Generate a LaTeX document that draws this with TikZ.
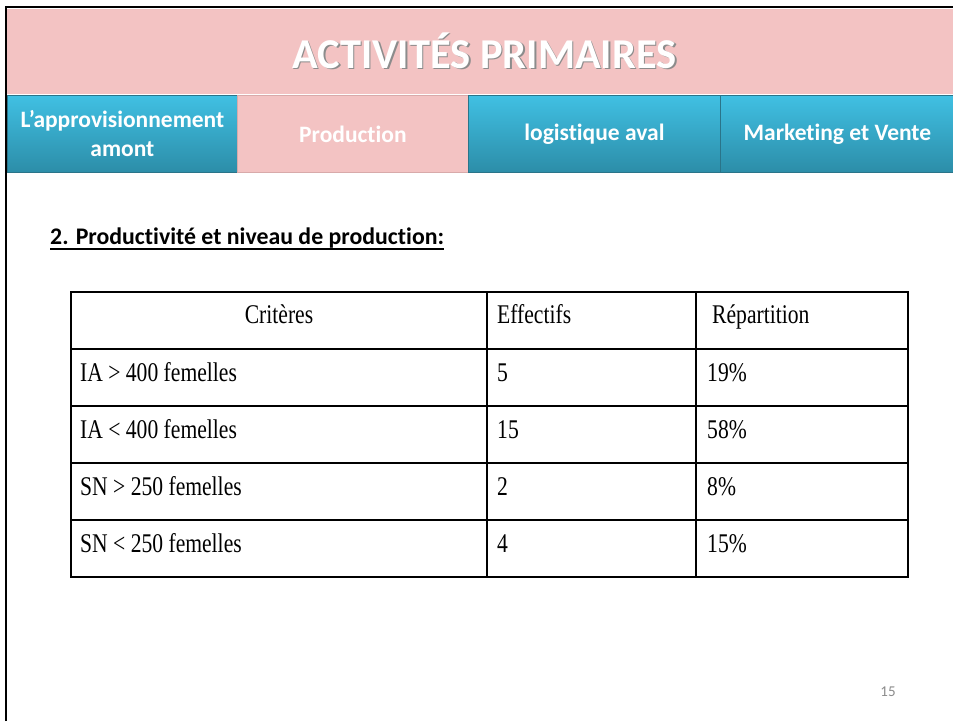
\documentclass[tikz,border=0pt]{standalone}
\usepackage{fontspec}
\setmainfont[Ligatures=NoCommon]{Carlito}
\newfontfamily\tabfont[FakeStretch=0.8]{Liberation Serif}
\definecolor{pinkbg}{HTML}{F3C3C3}
\definecolor{pinkedge}{HTML}{D8AAAA}
\definecolor{bluetop}{HTML}{40C0E3}
\definecolor{bluebot}{HTML}{2C8DA8}
\definecolor{blueedge}{HTML}{2A7489}
\definecolor{pagenum}{HTML}{8C8C8C}
\tikzset{
  bluetab/.style={draw=blueedge, line width=0.8pt, top color=bluetop, bottom color=bluebot,
    minimum height=77pt, inner sep=0pt, anchor=north west, text=white, align=center,
    font=\fontsize{23.5}{29}\selectfont\bfseries},
  pinktab/.style={draw=pinkedge, line width=0.8pt, fill=pinkbg,
    minimum height=77pt, inner sep=0pt, anchor=north west, text=white, align=center,
    font=\fontsize{23.5}{29}\selectfont\bfseries},
  celltext/.style={font=\tabfont\fontsize{27}{30}\selectfont, inner sep=0pt, anchor=base west},
  gridline/.style={line width=1.1pt, black}
}
\begin{document}
\begin{tikzpicture}[x=1pt,y=-1pt]
\useasboundingbox (0,0) rectangle (953,721);
\fill[white] (0,0) rectangle (953,721);
% header band
\fill[pinkbg] (7,8.5) rectangle (953,94);
% slide frame
\draw[line width=2.6pt, black] (6,721) -- (6,7) -- (953,7);
% title with shadow
\node[text=black!45, font=\fontsize{42.5}{48}\selectfont\bfseries] (titleshadow) at (486,52) {ACTIVITÉS PRIMAIRES};
\node[text=white, font=\fontsize{42.5}{48}\selectfont\bfseries] (title) at (484.5,50.5) {ACTIVITÉS PRIMAIRES};
% tabs
\node[bluetab, minimum width=230pt] (tab1) at (7,95) {L’approvisionnement\\amont};
\node[pinktab, minimum width=231pt] (tab2) at (237,95) {Production};
\node[bluetab, minimum width=252pt] (tab3) at (468,95) {logistique aval};
\node[bluetab, minimum width=234pt] (tab4) at (720,95) {Marketing et Vente};
% heading
\node[inner sep=0pt, anchor=base west, font=\fontsize{23.8}{28}\selectfont\bfseries] (heading) at (50,244) {2. Productivité et niveau de production:};
\draw[line width=1.3pt] ([yshift=-5pt]heading.base west) -- ([yshift=-5pt]heading.base east);
% table grid
\draw[gridline] (71,292) rectangle (908,577);
\foreach \yy in {349,406,463,520} \draw[gridline] (71,\yy) -- (908,\yy);
\draw[gridline] (487,292) -- (487,577);
\draw[gridline] (696,292) -- (696,577);
% table text
\node[celltext, anchor=base] (h1) at (279,323) {Critères};
\node[celltext] (h2) at (497,323) {Effectifs};
\node[celltext] (h3) at (712,323) {Répartition};
\node[celltext] (r1a) at (80,381) {IA > 400 femelles};
\node[celltext] (r1b) at (497,381) {5};
\node[celltext] (r1c) at (707,381) {19\%};
\node[celltext] (r2a) at (80,438) {IA < 400 femelles};
\node[celltext] (r2b) at (497,438) {15};
\node[celltext] (r2c) at (707,438) {58\%};
\node[celltext] (r3a) at (80,495) {SN > 250 femelles};
\node[celltext] (r3b) at (497,495) {2};
\node[celltext] (r3c) at (707,495) {8\%};
\node[celltext] (r4a) at (80,552) {SN < 250 femelles};
\node[celltext] (r4b) at (497,552) {4};
\node[celltext] (r4c) at (707,552) {15\%};
% page number
\node[text=pagenum, font=\fontsize{15}{17}\selectfont] (pnum) at (888,692) {15};
\end{tikzpicture}
\end{document}
